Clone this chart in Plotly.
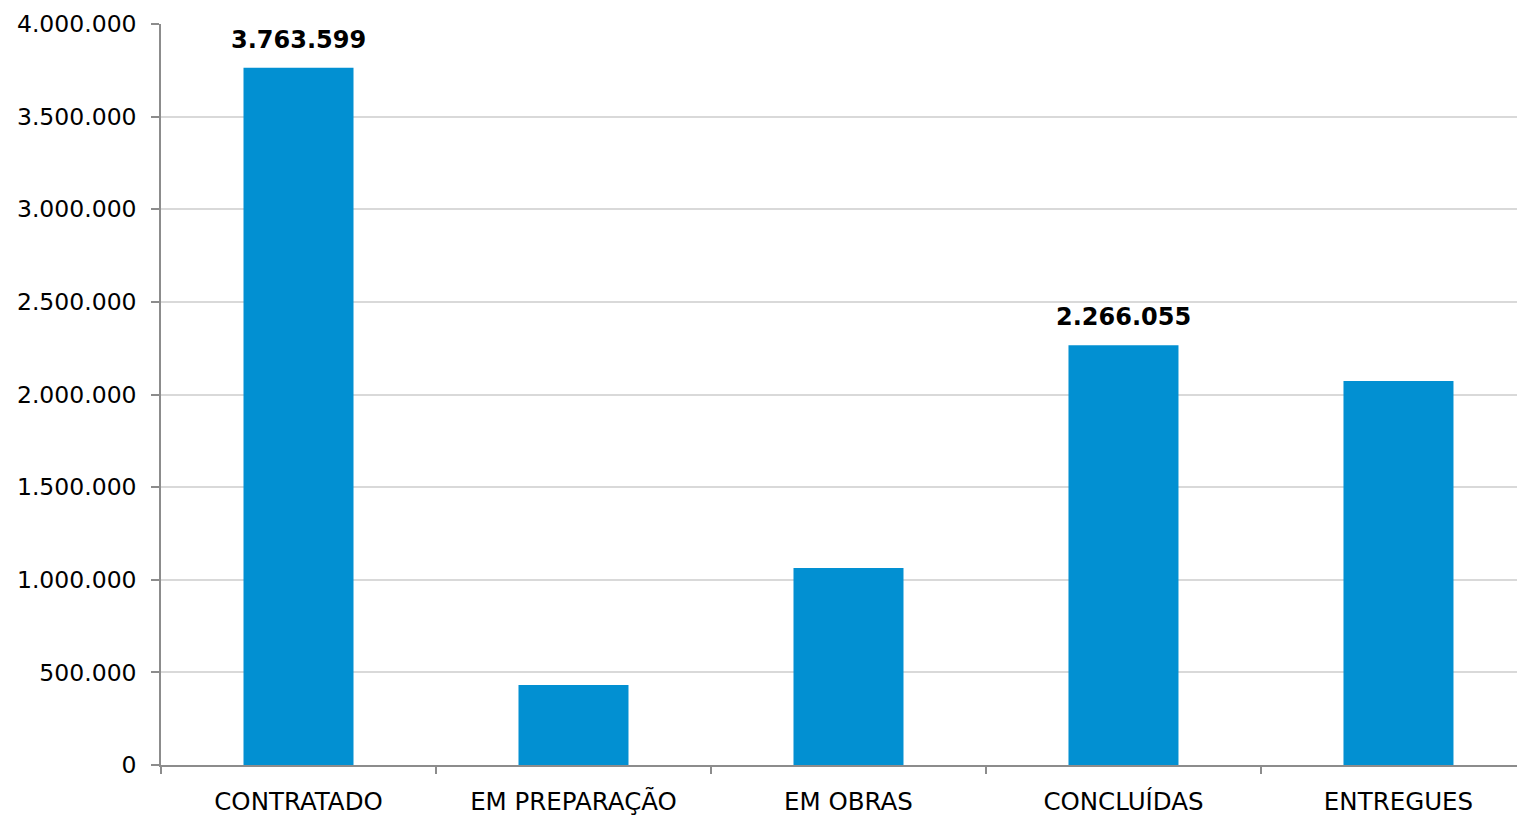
import plotly.graph_objects as go

categories = ["CONTRATADO", "EM PREPARAÇÃO", "EM OBRAS", "CONCLUÍDAS", "ENTREGUES"]
values = [3763599, 432000, 1063000, 2266055, 2073000]
labelled = [True, False, False, True, False]
y_ticks = [0, 500000, 1000000, 1500000, 2000000, 2500000, 3000000, 3500000, 4000000]

FONT = "DejaVu Sans"
BAR = "#0290D2"
AXIS = "#8c8c8c"
GRID = "#d9d9d9"


def fmt(v):
    return f"{v:,}".replace(",", ".")


fig = go.Figure()
fig.add_trace(go.Bar(x=categories, y=values, marker=dict(color=BAR, line=dict(width=0)),
                     hoverinfo="skip"))

annotations = []
for c, v, lab in zip(categories, values, labelled):
    if lab:
        annotations.append(dict(x=c, y=v, text=f"<b>{fmt(v)}</b>", showarrow=False,
                                yanchor="middle", yshift=28,
                                font=dict(family=FONT, size=24, color="black")))

fig.update_layout(
    width=1517, height=815,
    margin=dict(l=161, r=0, t=24, b=50, autoexpand=False),
    paper_bgcolor="white", plot_bgcolor="white",
    bargap=0.6,
    showlegend=False,
    separators=",.",
    font=dict(family=FONT, size=22, color="black"),
    annotations=annotations,
)
fig.update_xaxes(
    range=[-0.5, 4.431],
    automargin=False,
    showline=True, linecolor=AXIS, linewidth=1.5,
    ticks="outside", tickson="boundaries", ticklen=7, tickcolor=AXIS, tickwidth=1.5,
    showgrid=False,
    tickfont=dict(family=FONT, size=24.5, color="black"),
    ticklabelstandoff=14,
)
fig.update_yaxes(
    range=[0, 4000000],
    automargin=False,
    tickvals=y_ticks, ticktext=[fmt(t) for t in y_ticks],
    showline=True, linecolor=AXIS, linewidth=1.5,
    ticks="outside", ticklen=8, tickcolor=AXIS, tickwidth=1.5,
    showgrid=True, gridcolor=GRID, gridwidth=1.5,
    zeroline=False,
    tickfont=dict(family=FONT, size=23.5, color="black"),
    ticklabelstandoff=10,
)

fig.write_html(
    "out.html",
    config={"displayModeBar": False},
    post_script="document.body.style.margin='0';document.body.style.overflow='hidden';",
)
